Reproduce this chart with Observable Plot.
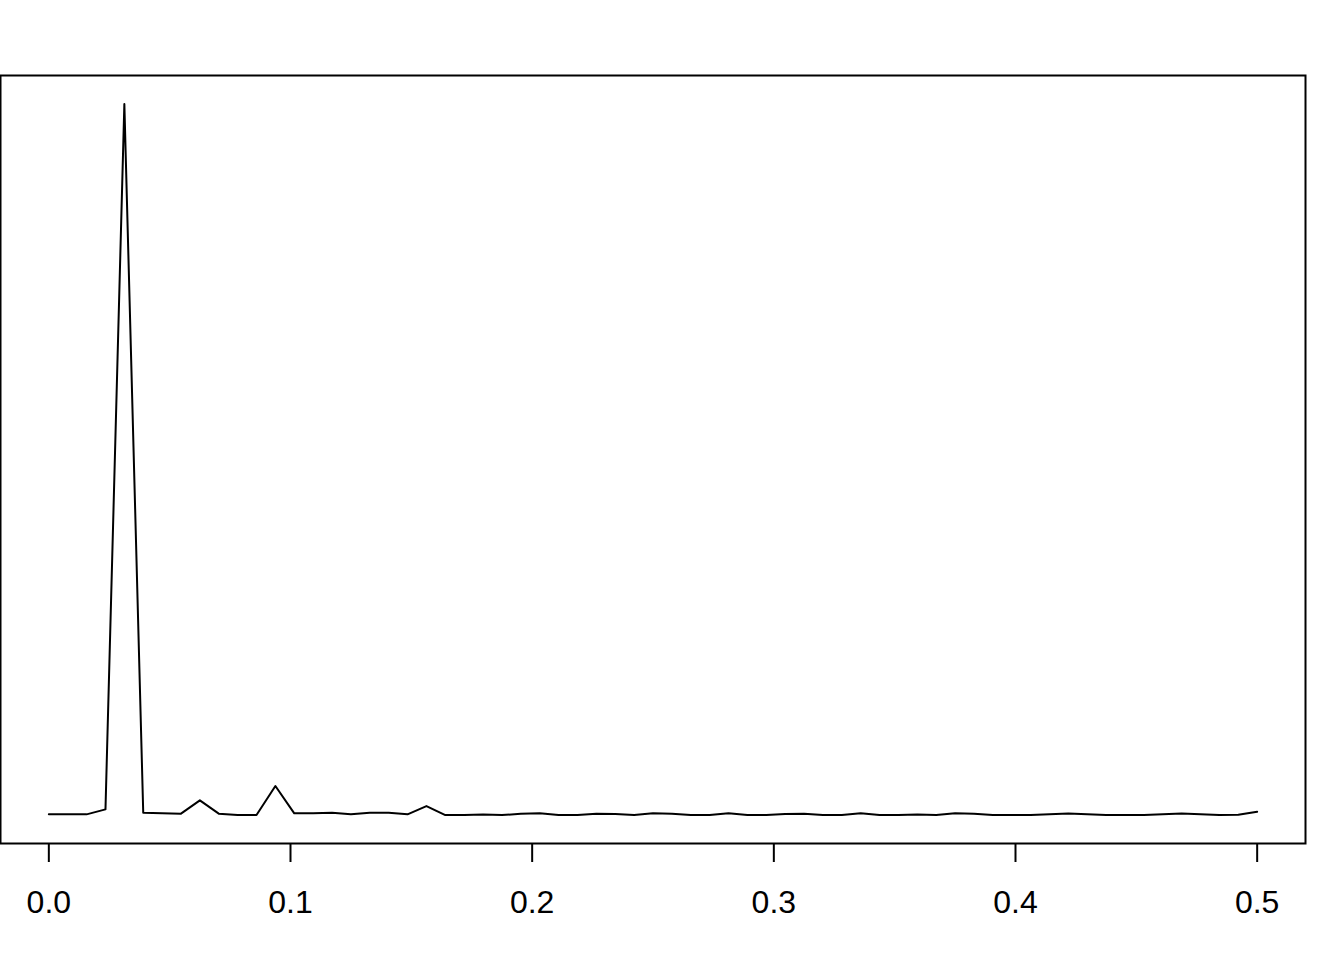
<!DOCTYPE html>
<html>
<head>
<meta charset="utf-8">
<script src="https://cdn.jsdelivr.net/npm/d3@7"></script>
<script src="https://cdn.jsdelivr.net/npm/@observablehq/plot@0.6"></script>
<style>
  html, body { margin: 0; padding: 0; background: #ffffff; }
  #chart svg { display: block; }
</style>
</head>
<body>
<div id="chart"></div>
<script>
// Frequencies (cycles per observation) of the periodogram ordinates
const frequency = [
  0, 0.0078125, 0.015625, 0.0234375, 0.03125, 0.0390625, 0.046875, 0.0546875,
  0.0625, 0.0703125, 0.078125, 0.0859375, 0.09375, 0.1015625, 0.109375, 0.1171875,
  0.125, 0.1328125, 0.140625, 0.1484375, 0.15625, 0.1640625, 0.171875, 0.1796875,
  0.1875, 0.1953125, 0.203125, 0.2109375, 0.21875, 0.2265625, 0.234375, 0.2421875,
  0.25, 0.2578125, 0.265625, 0.2734375, 0.28125, 0.2890625, 0.296875, 0.3046875,
  0.3125, 0.3203125, 0.328125, 0.3359375, 0.34375, 0.3515625, 0.359375, 0.3671875,
  0.375, 0.3828125, 0.390625, 0.3984375, 0.40625, 0.4140625, 0.421875, 0.4296875,
  0.4375, 0.4453125, 0.453125, 0.4609375, 0.46875, 0.4765625, 0.484375, 0.4921875,
  0.5
];
// Spectral power (arbitrary units)
const power = [
  1, 1, 1, 6, 711, 2.7, 2, 1.7,
  15, 1.7, 0.3, 0.3, 29.3, 2, 2, 2.7,
  1, 2.5, 2.5, 1, 9.3, 0.3, 0.3, 0.8,
  0.3, 1.5, 2, 0.3, 0.3, 1.5, 1.3, 0.3,
  2, 1.5, 0.3, 0.3, 2, 0.3, 0.3, 1.3,
  1.5, 0.3, 0.3, 2, 0.3, 0.3, 0.8, 0.3,
  2, 1.5, 0.3, 0.3, 0.3, 1, 1.8, 1,
  0.3, 0.3, 0.3, 1, 1.8, 1, 0.3, 0.5,
  3.5
];
const xTicks = [0, 0.1, 0.2, 0.3, 0.4, 0.5];
const xTickLabels = ["0.0", "0.1", "0.2", "0.3", "0.4", "0.5"];

const data = frequency.map((f, i) => ({f, p: power[i]}));

// R-style 4% axis expansion
const pMin = d3.min(power), pMax = d3.max(power);
const pPad = (pMax - pMin) * 0.04;
const fMin = d3.min(frequency), fMax = d3.max(frequency);
const fPad = (fMax - fMin) * 0.04;

const chart = Plot.plot({
  width: 1344,
  height: 960,
  marginLeft: 0,
  marginRight: 39,
  marginTop: 75,
  marginBottom: 117,
  style: {fontFamily: "'Liberation Sans', Arial, sans-serif", color: "#000", background: "#fff"},
  x: {domain: [fMin - fPad, fMax + fPad]},
  y: {domain: [pMin - pPad, pMax + pPad], axis: null},
  marks: [
    Plot.frame({stroke: "#000", strokeWidth: 2}),
    Plot.line(data, {x: "f", y: "p", stroke: "#000", strokeWidth: 2}),
    Plot.axisX({
      ticks: xTicks,
      tickFormat: (d) => xTickLabels[xTicks.indexOf(d)],
      tickSize: 19,
      tickPadding: 28,
      strokeWidth: 2,
      fontSize: 32,
      label: null
    })
  ]
});
document.getElementById("chart").appendChild(chart);
</script>
</body>
</html>
